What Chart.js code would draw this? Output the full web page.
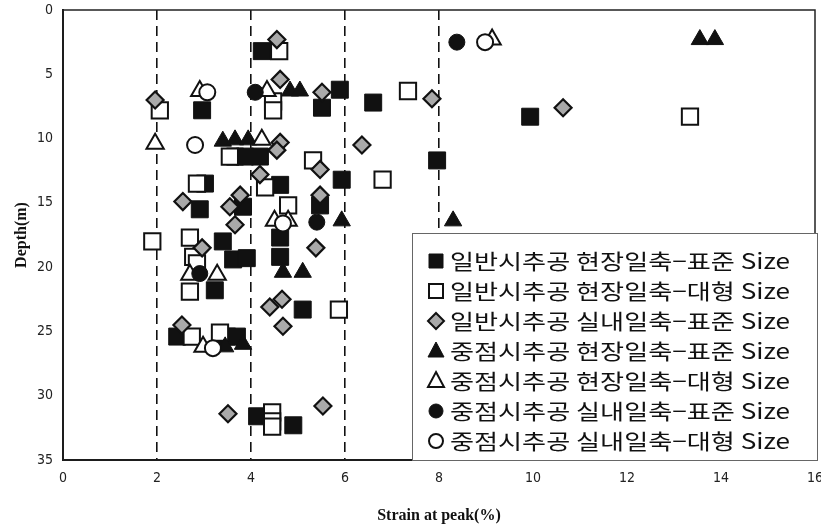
<!DOCTYPE html>
<html lang="ko">
<head>
<meta charset="UTF-8">
<title>Strain at peak vs Depth</title>
<style>
    body { margin: 0; background: #fff; }
    #wrap { width: 821px; height: 527px; }
</style>
</head>
<body>
<div id="wrap"><canvas id="chart" width="821" height="527"></canvas></div>
<script src="https://cdn.jsdelivr.net/npm/chart.js"></script>
<script>
// series values (x = strain %, y = depth m)
const s1X = [4.23, 5.89, 5.51, 6.6, 2.96, 9.94, 3.66, 3.87, 4.19, 7.96, 3.02, 4.62, 5.93, 2.91, 3.83, 5.47, 3.4, 4.62, 3.62, 3.91, 4.62, 3.23, 5.1, 2.43, 3.49, 3.7, 4.13, 4.9];
const s1Y = [3.2, 6.2, 7.6, 7.2, 7.8, 8.3, 11.4, 11.4, 11.4, 11.7, 13.5, 13.6, 13.2, 15.5, 15.3, 15.2, 18.0, 17.7, 19.4, 19.3, 19.2, 21.8, 23.3, 25.4, 25.4, 25.4, 31.6, 32.3];

const s2X = [4.6, 4.47, 4.47, 2.06, 7.34, 13.34, 5.32, 6.8, 2.85, 4.3, 4.79, 2.7, 1.9, 2.77, 2.85, 2.7, 5.87, 2.74, 3.34, 4.45, 4.45, 4.45, 3.55];
const s2Y = [3.2, 7.1, 7.8, 7.8, 6.3, 8.3, 11.7, 13.2, 13.5, 13.8, 15.2, 17.7, 18.0, 19.2, 19.7, 21.9, 23.3, 25.4, 25.1, 31.3, 32.0, 32.4, 11.4];

const s3X = [4.55, 4.62, 5.51, 1.96, 7.85, 10.64, 4.62, 4.55, 6.36, 5.47, 4.19, 2.55, 3.77, 3.55, 5.47, 3.66, 2.96, 5.38, 4.4, 4.66, 4.68, 2.53, 3.51, 5.53];
const s3Y = [2.3, 5.4, 6.4, 7.0, 6.9, 7.6, 10.3, 10.9, 10.5, 12.4, 12.8, 14.9, 14.4, 15.3, 14.4, 16.7, 18.5, 18.5, 23.1, 22.5, 24.6, 24.5, 31.4, 30.8];

const s4X = [4.83, 5.04, 3.4, 3.66, 3.94, 5.93, 8.3, 4.68, 5.1, 3.45, 3.83, 13.55, 13.87];
const s4Y = [6.3, 6.3, 10.2, 10.1, 10.1, 16.4, 16.4, 20.4, 20.4, 26.2, 26.0, 2.3, 2.3];

const s5X = [2.91, 4.34, 1.96, 4.23, 4.5, 4.79, 2.7, 3.28, 2.98, 9.13];
const s5Y = [6.3, 6.3, 10.4, 10.1, 16.4, 16.4, 20.6, 20.6, 26.2, 2.3];

const s6X = [4.09, 8.38, 5.4, 2.91];
const s6Y = [6.4, 2.5, 16.5, 20.5];

const s7X = [3.07, 2.81, 4.68, 3.19, 8.98];
const s7Y = [6.4, 10.5, 16.6, 26.3, 2.5];

const seriesNames = [
    '일반시추공 현장일축−표준 Size',
    '일반시추공 현장일축−대형 Size',
    '일반시추공 실내일축−표준 Size',
    '중점시추공 현장일축−표준 Size',
    '중점시추공 현장일축−대형 Size',
    '중점시추공 실내일축−표준 Size',
    '중점시추공 실내일축−대형 Size'
];
const xTicks = [0, 2, 4, 6, 8, 10, 12, 14, 16];
const yTicks = [0, 5, 10, 15, 20, 25, 30, 35];
const dashedAt = [2, 4, 6, 8];

function zip(xs, ys) {
    return xs.map((x, i) => ({ x: x, y: ys[i] }));
}

const BLACK = '#111111';
const GRAY = '#a9a9a9';
const styles = [
    { shape: 'rect', bg: BLACK, bw: 1, r: 12 },
    { shape: 'rect', bg: '#ffffff', bw: 2, r: 11.5 },
    { shape: 'rectRot', bg: GRAY, bw: 2.2, r: 8.5 },
    { shape: 'triangle', bg: BLACK, bw: 1, r: 10 },
    { shape: 'triangle', bg: '#ffffff', bw: 2, r: 10 },
    { shape: 'circle', bg: BLACK, bw: 1, r: 8 },
    { shape: 'circle', bg: '#ffffff', bw: 2, r: 8 }
];
const allData = [zip(s1X, s1Y), zip(s2X, s2Y), zip(s3X, s3Y), zip(s4X, s4Y), zip(s5X, s5Y), zip(s6X, s6Y), zip(s7X, s7Y)];

const datasets = allData.map((d, i) => ({
    label: seriesNames[i],
    data: d,
    pointStyle: styles[i].shape,
    pointRadius: styles[i].r,
    pointHoverRadius: styles[i].r,
    backgroundColor: styles[i].bg,
    borderColor: BLACK,
    borderWidth: styles[i].bw,
    showLine: false,
    order: 7 - i
}));

// frame round the plot
const framePlugin = {
    id: 'frame',
    beforeDatasetsDraw(chart) {
        const a = chart.chartArea;
        const ctx = chart.ctx;
        ctx.save();
        ctx.strokeStyle = '#222';
        ctx.lineWidth = 1.5;
        ctx.strokeRect(a.left, a.top, a.right - a.left, a.bottom - a.top);
        ctx.restore();
    }
};

// boxed legend inside the plot, lower right
const legendBox = {
    id: 'legendBox',
    afterDraw(chart) {
        const ctx = chart.ctx;
        const bx = 412, by = 233, bw = 405, bh = 227;
        ctx.save();
        ctx.fillStyle = '#fff';
        ctx.fillRect(bx, by, bw, bh);
        ctx.strokeStyle = '#666';
        ctx.lineWidth = 1;
        ctx.strokeRect(bx + 0.5, by + 0.5, bw, bh);
        ctx.font = '21px "Noto Sans CJK KR", sans-serif';
        ctx.textBaseline = 'middle';
        ctx.fillStyle = '#111';
        seriesNames.forEach((name, i) => {
            const cy = 261 + i * 30;
            const cx = 436;
            const st = styles[i];
            ctx.beginPath();
            if (st.shape === 'rect') {
                ctx.rect(cx - 7, cy - 7, 14, 14);
            } else if (st.shape === 'rectRot') {
                ctx.moveTo(cx, cy - 8); ctx.lineTo(cx + 8, cy); ctx.lineTo(cx, cy + 8); ctx.lineTo(cx - 8, cy);
                ctx.closePath();
            } else if (st.shape === 'triangle') {
                ctx.moveTo(cx, cy - 9); ctx.lineTo(cx + 8, cy + 6); ctx.lineTo(cx - 8, cy + 6);
                ctx.closePath();
            } else {
                ctx.arc(cx, cy, 7, 0, Math.PI * 2);
            }
            ctx.fillStyle = st.bg;
            ctx.fill();
            ctx.strokeStyle = BLACK;
            ctx.lineWidth = st.bw > 1 ? 2 : 1;
            ctx.stroke();
            ctx.fillStyle = '#111';
            const w = ctx.measureText(name).width;
            const sx = 340 / w;
            ctx.save();
            ctx.translate(450, cy);
            ctx.scale(sx, 1);
            ctx.fillText(name, 0, 0);
            ctx.restore();
        });
        ctx.restore();
    }
};

new Chart(document.getElementById('chart'), {
    type: 'scatter',
    data: { datasets: datasets },
    options: {
        responsive: false,
        animation: false,
        events: [],
        layout: { autoPadding: false, padding: { top: 10, right: 6, left: 0, bottom: 0 } },
        plugins: {
            legend: { display: false },
            tooltip: { enabled: false }
        },
        scales: {
            x: {
                type: 'linear',
                min: 0,
                max: 16,
                afterBuildTicks: s => { s.ticks = xTicks.map(v => ({ value: v })); },
                afterFit: s => { s.height = 67; s.paddingLeft = 0; s.paddingRight = 0; },
                ticks: {
                    padding: 10,
                    color: '#222',
                    font: { family: '"Liberation Sans Narrow", "DejaVu Sans Condensed", Arial', size: 14 }
                },
                grid: {
                    drawTicks: false,
                    lineWidth: 1.6,
                    color: c => (c.tick && dashedAt.includes(c.tick.value)) ? '#111' : 'rgba(0,0,0,0)'
                },
                border: { display: true, color: '#111', width: 2, dash: [10, 6] },
                title: {
                    display: true,
                    text: 'Strain at peak(%)',
                    color: '#111',
                    padding: { top: 0, bottom: 2 },
                    font: { family: '"Liberation Serif", "DejaVu Serif", serif', size: 16, weight: 'bold' }
                }
            },
            y: {
                type: 'linear',
                reverse: true,
                min: 0,
                max: 35,
                afterBuildTicks: s => { s.ticks = yTicks.map(v => ({ value: v })); },
                afterFit: s => { s.width = 63; s.paddingTop = 0; s.paddingBottom = 0; },
                ticks: {
                    padding: 10,
                    color: '#222',
                    font: { family: '"Liberation Sans Narrow", "DejaVu Sans Condensed", Arial', size: 14 }
                },
                grid: { display: false, drawTicks: false },
                border: { display: true, color: '#111', width: 2 },
                title: {
                    display: true,
                    text: 'Depth(m)',
                    color: '#111',
                    padding: { top: 12, bottom: 0 },
                    font: { family: '"Liberation Serif", "DejaVu Serif", serif', size: 16, weight: 'bold' }
                }
            }
        }
    },
    plugins: [framePlugin, legendBox]
});
</script>
</body>
</html>
